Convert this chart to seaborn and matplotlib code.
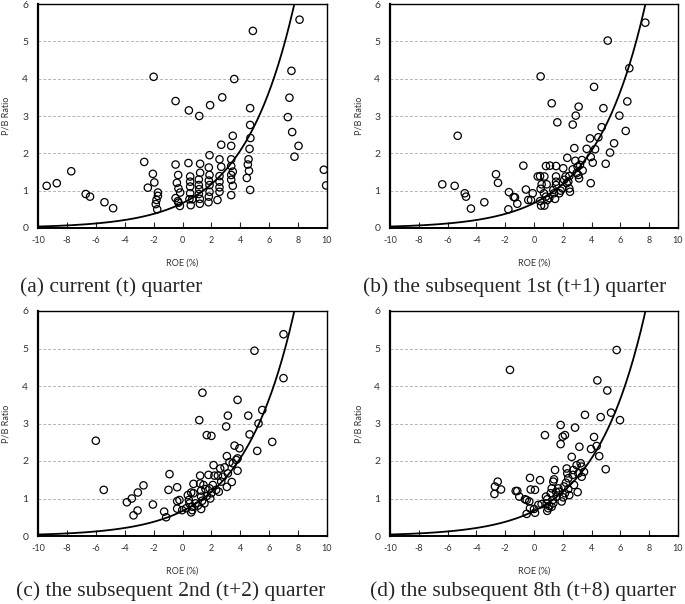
import numpy as np
import matplotlib
matplotlib.use("Agg")
import matplotlib.pyplot as plt
import seaborn as sns

# --- data (ROE %, P/B ratio) ---
roe_a = [-9.4, -8.7, -7.7, -6.7, -6.4, -5.4, -4.8,
         -2.65, -2.4, -2.05, -1.95, -2.0, -1.7, -1.7, -1.8, -1.85, -1.75,
         -0.48, -0.48, -0.48, -0.3, -0.39, -0.28, -0.16, -0.32, -0.28, -0.18,
         0.44, 0.41, 0.53, 0.53, 0.53, 0.53, 0.48, 0.67, 0.57,
         1.16, 1.22, 1.22, 1.13, 1.13, 1.16, 1.13, 1.2, 1.2,
         1.91, 1.87, 1.82, 1.87, 1.82, 1.87, 1.87, 1.82, 1.8,
         2.42, 2.75, 2.68, 2.56, 2.68, 2.56, 2.56, 2.56, 2.56,
         3.58, 3.48, 3.37, 3.37, 3.37, 3.48, 3.37, 3.37, 3.48, 3.37,
         4.87, 4.68, 4.68, 4.7, 4.64, 4.57, 4.52, 4.6, 4.45, 4.68,
         7.4, 7.54, 7.29, 7.59, 8.03, 7.75, 8.1, 9.78, 9.94]
pb_a = [1.13, 1.20, 1.52, 0.91, 0.84, 0.69, 0.53,
        1.77, 1.08, 1.45, 1.22, 4.05, 0.95, 0.86, 0.75, 0.64, 0.50,
        3.40, 1.70, 0.80, 1.42, 1.21, 1.06, 0.95, 0.72, 0.68, 0.59,
        3.15, 1.74, 1.38, 1.24, 1.11, 0.93, 0.77, 0.77, 0.61,
        3.00, 1.72, 1.48, 1.30, 1.15, 1.04, 0.91, 0.78, 0.65,
        3.29, 1.95, 1.62, 1.42, 1.27, 1.15, 0.97, 0.84, 0.69,
        0.75, 3.50, 2.23, 1.84, 1.64, 1.39, 1.24, 1.09, 0.97,
        3.99, 2.47, 2.20, 1.84, 1.66, 1.51, 1.42, 1.29, 1.13, 0.88,
        5.28, 3.21, 2.76, 2.41, 2.12, 1.84, 1.70, 1.53, 1.34, 1.02,
        3.49, 4.21, 2.97, 2.57, 2.20, 1.91, 5.58, 1.56, 1.14]

roe_b = [-6.37, -5.51, -5.30, -4.81, -4.72, -4.38, -3.45, -2.64, -2.50, -1.74, -1.78, -1.41,
         -1.32, -1.16, -0.74, -0.56, -0.40, -0.21, -0.09,
         0.46, 0.26, 0.42, 0.72, 0.53, 0.88, 0.46, 0.69, 0.83, 0.42, 0.49, 0.72, 0.92, 1.06,
         1.23, 0.83, 1.11, 1.53, 1.62, 1.39, 1.46, 1.53, 1.53, 1.53, 1.34, 1.76, 1.85, 1.97,
         2.03, 2.10, 2.20, 2.27, 2.31, 2.38, 2.45, 2.50, 2.45, 2.69, 2.80, 2.69, 2.90, 3.10,
         2.87, 3.03, 3.19, 3.33, 2.96, 3.08, 3.13, 3.38, 3.66, 3.89, 3.94, 3.94, 4.08, 4.24,
         4.17, 4.47, 4.70, 4.82, 5.12, 4.98, 5.28, 5.56, 5.93, 6.37, 6.48, 6.62, 7.73]
pb_b = [1.17, 1.13, 2.47, 0.93, 0.84, 0.52, 0.69, 1.44, 1.21, 0.96, 0.50, 0.83,
        0.82, 0.65, 1.67, 1.03, 0.75, 0.75, 0.93,
        4.06, 1.38, 1.39, 1.38, 1.17, 1.17, 1.05, 0.93, 0.84, 0.72, 0.60, 0.60, 0.75, 0.80,
        3.34, 1.66, 1.67, 1.66, 2.83, 0.93, 0.78, 1.15, 1.38, 1.24, 1.02, 0.93, 1.00, 1.06,
        1.60, 1.29, 1.38, 1.20, 1.88, 1.24, 1.06, 0.97, 1.39, 1.57, 2.14, 2.77, 3.01, 3.25,
        1.80, 1.64, 1.69, 1.82, 1.47, 1.42, 1.33, 1.54, 2.12, 2.40, 1.20, 1.90, 1.75, 2.11,
        3.78, 2.43, 2.70, 3.21, 5.02, 1.72, 2.02, 2.27, 3.01, 2.60, 3.39, 4.28, 5.50]

roe_c = [-6.0, -5.45, -3.85, -3.51, -3.09, -2.70, -3.39, -3.11, -2.05, -1.27, -1.13, -0.97, -0.90,
         -0.37, -0.37, -0.37, -0.21, -0.02, 0.37, 0.44, 0.48, 0.26, 0.60, 0.76, 0.76, 0.67, 0.60, 0.67, 0.90, 1.06,
         1.16, 1.22, 1.22, 1.38, 1.29, 1.29, 1.36, 1.29, 1.45, 1.59, 1.68, 1.52, 1.68, 2.00, 1.80, 1.87, 1.99, 1.92,
         2.10, 2.15, 2.21, 2.33, 2.45, 2.51, 2.61, 2.68, 2.79, 2.91, 3.02, 3.14, 3.07, 3.14, 3.07, 3.25, 3.41, 3.48,
         3.60, 3.72, 3.81, 3.81, 3.94, 3.81, 4.55, 4.64, 4.98, 5.17, 5.26, 5.52, 6.21, 6.99, 6.99]
pb_c = [2.54, 1.23, 0.90, 1.00, 1.16, 1.35, 0.55, 0.68, 0.84, 0.65, 0.50, 1.23, 1.65,
        1.30, 0.93, 0.73, 0.96, 0.69, 1.09, 0.96, 0.87, 0.74, 1.16, 1.39, 1.14, 0.78, 0.63, 0.69, 0.87, 0.81,
        3.09, 1.61, 1.40, 3.82, 1.21, 1.05, 0.94, 0.72, 1.36, 1.25, 1.07, 0.87, 2.69, 2.67, 1.63, 1.27, 1.14, 1.00,
        1.36, 1.89, 1.61, 1.23, 1.61, 1.18, 1.80, 1.45, 1.58, 1.83, 2.92, 3.21, 2.13, 1.67, 1.31, 1.97, 1.44, 1.94,
        2.41, 2.03, 3.63, 2.07, 2.34, 1.74, 3.21, 2.71, 4.94, 2.27, 3.00, 3.36, 2.51, 5.38, 4.21]

roe_d = [-1.67, -2.75, -2.71, -2.52, -2.29, -1.27, -1.16, -1.02, -0.63, -0.51, -0.33, -0.28, -0.23, 0.07, 0.42,
         -0.51, -0.28, 0.00, 0.07, 0.30, 0.53, 0.76, 0.83, 0.92, 0.88, 0.99, 1.06, 0.92, 1.16, 1.23, 1.34, 1.39, 1.46,
         1.30, 1.34, 1.23, 1.53, 1.57, 1.69, 1.76, 1.85, 1.85, 1.99, 2.15, 1.92, 2.03, 2.15, 2.08, 2.22, 2.31, 2.27,
         2.38, 2.38, 2.45, 2.62, 2.73, 2.69, 2.78, 2.85, 2.96, 3.03, 3.08, 3.15, 3.24, 3.31, 3.31, 3.47, 3.54,
         3.96, 4.17, 4.35, 4.40, 4.53, 4.63, 4.98, 5.09, 5.35, 5.74, 5.97]
pb_d = [4.43, 1.12, 1.32, 1.45, 1.24, 1.20, 1.20, 1.05, 0.98, 0.96, 0.92, 1.55, 1.24, 1.23, 1.49,
        0.59, 0.74, 0.72, 0.62, 0.83, 0.85, 2.69, 1.05, 0.98, 0.87, 0.74, 0.80, 0.67, 1.14, 1.27, 1.45, 1.51, 1.76,
        0.96, 0.87, 0.78, 1.18, 1.05, 1.27, 1.18, 2.96, 2.45, 2.65, 2.69, 0.92, 1.03, 1.14, 1.32, 1.42, 1.67, 1.80,
        1.54, 1.25, 1.09, 2.11, 1.76, 1.63, 1.36, 2.89, 1.89, 1.17, 1.67, 2.38, 1.94, 1.85, 1.58, 1.71, 3.23,
        2.32, 2.64, 2.40, 4.15, 2.13, 3.17, 1.78, 3.88, 3.29, 4.96, 3.09]

captions = ["(a) current (t) quarter",
            "(b) the subsequent 1st (t+1) quarter",
            "(c) the subsequent 2nd (t+2) quarter",
            "(d) the subsequent 8th (t+8) quarter"]

# theoretical P/B curve, P/B = a * exp(b * ROE)
curve_a = 0.666
curve_b = 0.284

x_ticks = list(range(-10, 11, 2))
y_ticks = list(range(0, 7))

sns.set_style("white")
plt.rcParams["font.family"] = ["Lato", "DejaVu Sans"]
plt.rcParams["axes.unicode_minus"] = False

W, H = 685, 604
fig = plt.figure(figsize=(W / 100, H / 100), dpi=100)

# axes boxes in pixels: left, top, right, bottom
boxes = [(38, 4, 327, 228), (390, 4, 678, 228),
         (38, 311, 327, 536), (390, 311, 678, 536)]
cap_pos = [(20, 287), (363, 287), (16, 591), (370, 591)]
panels = [(roe_a, pb_a), (roe_b, pb_b), (roe_c, pb_c), (roe_d, pb_d)]

xs = np.linspace(-10, 10, 400)
ys = curve_a * np.exp(curve_b * xs)

for (l, t, r, b), (roe, pb), cap, (cx, cy) in zip(boxes, panels, captions, cap_pos):
    ax = fig.add_axes([l / W, 1 - b / H, (r - l) / W, (b - t) / H])
    ax.yaxis.grid(True, linestyle=(0, (3, 2)), color="#b5b5b5", linewidth=0.7)
    ax.set_axisbelow(True)
    sns.lineplot(x=xs, y=ys, ax=ax, color="black", linewidth=1.3)
    sns.scatterplot(x=roe, y=pb, ax=ax, marker="o", s=28, facecolor="none",
                    edgecolor="black", linewidth=0.9, zorder=3)
    ax.set_xlim(-10, 10)
    ax.set_ylim(0, 6)
    ax.set_xticks(x_ticks)
    ax.set_yticks(y_ticks)
    ax.tick_params(axis="x", direction="in", length=4, width=0.8, pad=6,
                   labelsize=6.5, labelcolor="#333333", bottom=True)
    ax.tick_params(axis="y", length=0, pad=7, labelsize=7.5, labelcolor="#333333", left=True)
    for side, lw in [("left", 1.6), ("bottom", 1.4), ("top", 1.0), ("right", 1.0)]:
        ax.spines[side].set_visible(True)
        ax.spines[side].set_linewidth(lw)
        ax.spines[side].set_color("black")
    ax.set_xlabel("ROE (%)", fontsize=6.5, color="#333333")
    ax.set_ylabel("P/B Ratio", fontsize=6.5, color="#333333")
    ax.xaxis.set_label_coords(0.5, -31 / (b - t))
    ax.yaxis.set_label_coords(-27 / (r - l), 0.5)
    fig.text(cx / W, 1 - cy / H, cap, fontsize=15.5, family="Liberation Serif",
             ha="left", va="center")

fig.savefig("out.png", dpi=100)
